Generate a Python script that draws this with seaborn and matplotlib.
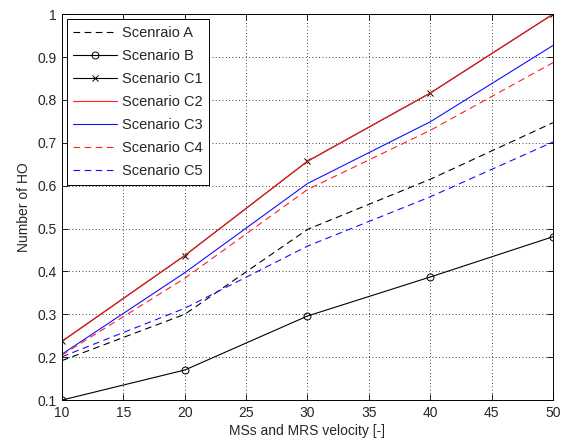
import matplotlib
matplotlib.use("Agg")
import matplotlib.pyplot as plt
import seaborn as sns
import pandas as pd

velocity = [10, 20, 30, 40, 50]
scenario_a = [0.192, 0.300, 0.498, 0.615, 0.747]
scenario_b = [0.100, 0.170, 0.296, 0.387, 0.481]
scenario_c1 = [0.237, 0.437, 0.657, 0.816, 1.000]
scenario_c2 = [0.237, 0.437, 0.657, 0.816, 1.000]
scenario_c3 = [0.207, 0.397, 0.605, 0.749, 0.927]
scenario_c4 = [0.205, 0.384, 0.591, 0.729, 0.887]
scenario_c5 = [0.201, 0.314, 0.459, 0.574, 0.702]

series = [
    ("Scenraio A", scenario_a, dict(color="black", ls=(0, (6, 4)), marker=None)),
    ("Scenario B", scenario_b, dict(color="black", ls="-", marker="o", mfc="none", ms=5)),
    ("Scenario C1", scenario_c1, dict(color="black", ls="-", marker="x", ms=4.5)),
    ("Scenario C2", scenario_c2, dict(color="#ff2020", ls="-", marker=None)),
    ("Scenario C3", scenario_c3, dict(color="#1010ff", ls="-", marker=None)),
    ("Scenario C4", scenario_c4, dict(color="#ff2020", ls=(0, (6, 4)), marker=None)),
    ("Scenario C5", scenario_c5, dict(color="#1010ff", ls=(0, (6, 4)), marker=None)),
]

sns.set_theme(style="white")
plt.rcParams["font.family"] = ["Liberation Sans", "DejaVu Sans"]

fig = plt.figure(figsize=(5.66, 4.44), dpi=100)
ax = fig.add_axes([0.1095, 0.099, 0.8675, 0.869])

for name, values, st in series:
    df = pd.DataFrame({"x": velocity, "y": values})
    kw = dict(color=st["color"], linestyle=st["ls"], linewidth=0.8, label=name)
    if st["marker"]:
        kw.update(marker=st["marker"], markersize=st["ms"],
                  markeredgecolor=st["color"], markeredgewidth=0.7)
        if "mfc" in st:
            kw["markerfacecolor"] = st["mfc"]
    sns.lineplot(data=df, x="x", y="y", ax=ax, **kw)

ax.set_xlim(10, 50)
ax.set_ylim(0.1, 1.0)
ax.set_xticks(range(10, 51, 5))
ax.set_yticks([0.1, 0.2, 0.3, 0.4, 0.5, 0.6, 0.7, 0.8, 0.9, 1.0])
ax.set_yticklabels(["0.1", "0.2", "0.3", "0.4", "0.5", "0.6", "0.7", "0.8", "0.9", "1"])
ax.grid(True, color="black", linestyle=(0, (1, 3)), linewidth=0.6)
ax.tick_params(direction="in", length=4, width=0.6, labelsize=10, color="black",
               top=True, right=True, bottom=True, left=True, pad=4)
for sp in ax.spines.values():
    sp.set_color("black")
    sp.set_linewidth(0.7)
ax.set_xlabel("MSs and MRS velocity [-]", fontsize=10, labelpad=3)
ax.set_ylabel("Number of HO", fontsize=10, labelpad=4)

leg = ax.legend(loc="upper left", bbox_to_anchor=(0.01, 0.987), fontsize=10.5,
                frameon=True, fancybox=False, edgecolor="black", framealpha=1,
                handlelength=3.0, handletextpad=0.3, borderpad=0.45, labelspacing=0.62,
                borderaxespad=0.0)
leg.get_frame().set_linewidth(0.7)

fig.savefig("out.png", dpi=100, facecolor="white")
